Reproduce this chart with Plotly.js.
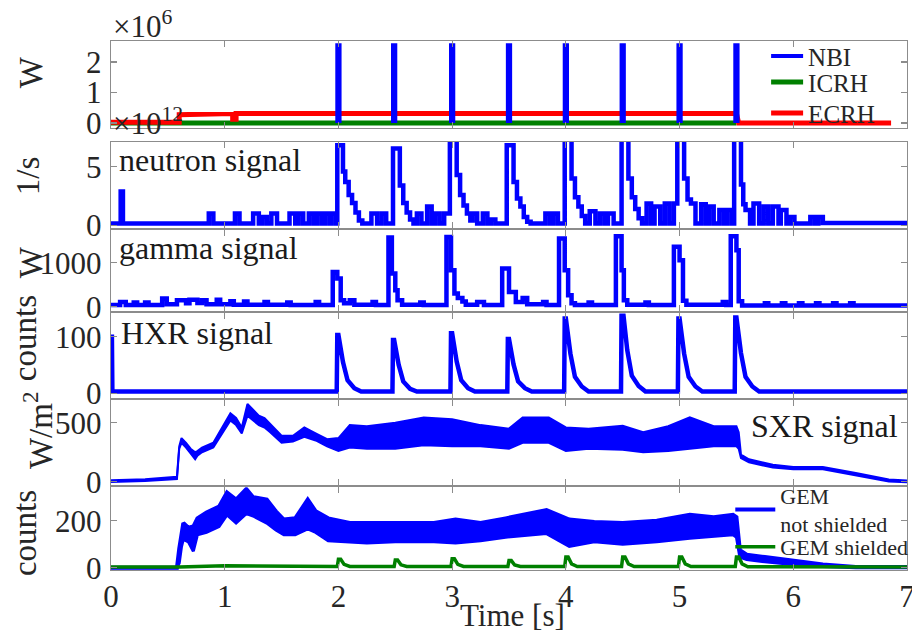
<!DOCTYPE html>
<html>
<head>
<meta charset="utf-8">
<script src="https://cdn.plot.ly/plotly-3.0.1.min.js"></script>
<style>html,body{margin:0;padding:0;background:#fff;}#chart{width:912px;height:632px;}</style>
</head>
<body>
<div id="chart"></div>
<script>
// ---------------- DATA ----------------
// Panel 1: heating power, in units of 1e6 W
const nbiT  = [1.99,1.99,2.01,2.01,null,2.48,2.48,2.50,2.50,null,2.99,2.99,3.01,3.01,null,3.49,3.49,3.51,3.51,null,3.99,3.99,4.01,4.01,null,4.49,4.49,4.51,4.51,null,4.99,4.99,5.01,5.01,null,5.49,5.49,5.51,5.51];
const nbiP  = [0,2.55,2.55,0,null,0,2.55,2.55,0,null,0,2.55,2.55,0,null,0,2.55,2.55,0,null,0,2.55,2.55,0,null,0,2.55,2.55,0,null,0,2.55,2.55,0,null,0,2.55,2.55,0];
const icrhT = [0, 5.5];
const icrhP = [0, 0];
const ecrhT = [0, 0.60, 0.60, 0.64, 0.64, 1.07, 1.07, 1.10, 1.10, 3.0, 5.50, 5.52, 6.86];
const ecrhP = [0.02, 0.02, 0.27, 0.27, 0.31, 0.31, 0.12, 0.12, 0.31, 0.31, 0.31, 0.0, 0.0];

// Panel 2: neutron signal, in units of 1e12 1/s (step data: value holds until next time)
const neutronT = [0,0.085,0.105,0.86,0.90,1.09,1.13,1.25,1.30,1.33,1.37,1.41,1.46,1.57,1.62,1.65,1.69,1.74,1.78,1.81,1.85,1.88,1.92,1.94,1.98,
  1.99,2.04,2.06,2.09,2.12,2.15,2.18,2.21,2.29,2.34,2.38,2.42,
  2.48,2.54,2.57,2.60,2.63,2.66,2.69,2.73,2.78,2.82,2.85,2.89,2.93,
  2.98,3.04,3.07,3.10,3.13,3.16,3.18,3.22,3.27,3.31,3.34,3.38,
  3.48,3.54,3.57,3.60,3.63,3.66,3.69,3.82,3.86,3.89,3.93,
  3.99,4.05,4.08,4.11,4.14,4.17,4.21,4.26,4.30,4.34,4.37,4.42,
  4.49,4.55,4.58,4.61,4.64,4.67,4.71,4.75,4.78,4.83,4.87,4.91,4.95,
  4.98,5.04,5.07,5.10,5.14,5.19,5.23,5.26,5.30,5.35,5.39,5.42,5.46,
  5.48,5.54,5.56,5.58,5.62,5.65,5.70,5.74,5.78,5.82,5.87,5.89,5.94,5.97,6.01,6.15,6.19,6.22,6.26,7.0];
const neutronV = [0.15,2.9,0.15,1.0,0.15,1.0,0.15,1.0,0.15,0.7,0.15,1.0,0.15,1.0,0.15,1.0,0.15,1.0,0.15,1.0,0.15,1.0,0.15,1.0,0.15,
  6.86,4.6,3.7,2.6,1.9,1.1,0.4,0.15,1.0,0.15,1.0,0.15,
  6.57,3.4,1.9,1.1,0.5,0.15,1.0,0.15,1.6,0.15,1.0,0.15,1.0,
  7.5,4.3,2.6,1.7,1.0,0.4,1.0,0.15,1.0,0.15,0.5,0.15,
  6.86,3.7,2.3,1.6,0.7,0.3,0.15,1.0,0.15,1.0,0.15,
  7.5,4.0,2.4,1.6,0.8,0.15,1.2,0.15,1.0,0.15,1.0,0.15,
  7.5,4.0,2.4,1.4,0.6,0.15,1.86,0.15,1.6,0.15,1.86,0.15,1.86,
  7.5,4.0,2.2,1.86,0.15,1.8,0.15,1.6,0.15,1.3,0.15,1.3,0.15,
  7.5,3.5,1.8,1.3,0.15,1.86,0.15,1.6,0.15,1.6,0.15,1.3,0.15,0.7,0.15,0.7,0.15,0.7,0.2,0.2];

// Panel 3: gamma signal, W (step data)
const gammaT = [0,0.08,0.13,0.20,0.23,0.30,0.33,0.45,0.49,0.58,0.66,0.69,0.76,0.80,0.84,0.93,0.96,1.05,1.08,1.17,1.20,1.35,1.38,1.55,1.58,1.80,1.83,
  1.95,1.99,2.02,2.05,2.10,2.14,2.30,2.33,
  2.44,2.47,2.50,2.52,2.56,2.72,2.75,
  2.95,2.99,3.02,3.05,3.09,3.12,3.22,3.28,
  3.44,3.50,3.56,3.62,3.66,3.80,3.83,
  3.94,3.99,4.02,4.05,4.08,4.20,4.23,
  4.44,4.49,4.51,4.54,4.70,4.73,
  4.95,5.00,5.03,5.06,5.38,5.41,
  5.45,5.50,5.52,5.55,5.75,5.78,5.90,5.93,6.05,6.08,6.20,6.23,6.35,6.38,6.50,6.53,7.0];
const gammaV = [40,110,40,100,40,100,40,190,60,150,80,160,90,150,60,160,60,130,50,120,50,110,50,100,40,110,40,
  795,645,150,80,150,50,110,40,
  1577,759,380,150,50,100,40,
  1590,834,304,200,120,50,110,40,
  872,340,110,200,60,110,40,
  1554,834,265,80,40,100,40,
  1607,834,150,50,100,40,
  1364,1061,140,50,110,40,
  1607,1288,130,30,80,30,80,30,80,30,80,30,80,30,80,30,30];

// Panel 4: HXR signal, counts
const hxrT = [0,0,0.008,0.012,1.985,1.99,2.00,2.04,2.08,2.14,2.20,
  2.475,2.48,2.49,2.53,2.57,2.63,2.69,
  2.985,2.99,3.00,3.04,3.08,3.14,3.20,
  3.485,3.49,3.50,3.54,3.58,3.64,3.70,
  3.985,3.99,4.00,4.04,4.08,4.14,4.20,
  4.485,4.49,4.50,4.54,4.58,4.64,4.70,
  4.985,4.99,5.00,5.04,5.08,5.14,5.20,
  5.485,5.49,5.50,5.54,5.58,5.64,5.70,7.0];
const hxrV = [0,100,100,3,3,103,103,55,23,9,3,
  3,94,94,50,21,8,3,
  3,106,106,56,23,9,3,
  3,96,96,51,21,9,3,
  3,132,132,70,29,12,3,
  3,150,150,76,31,13,3,
  3,132,132,70,29,12,3,
  3,134,134,71,29,12,3,3];

// Panel 5: SXR signal, W/m^2 (upper and lower edge of the noisy band)
const sxrT     = [0,0.30,0.58,0.60,0.62,0.66,0.70,0.74,0.76,0.80,0.90,1.00,1.05,1.10,1.15,1.20,1.25,1.30,1.35,1.40,1.50,1.60,1.70,1.80,1.90,2.00,2.10,2.25,2.50,2.75,3.00,3.25,3.50,3.62,3.85,4.00,4.20,4.50,4.68,4.90,5.09,5.30,5.50,5.52,5.54,5.61,5.82,6.00,6.26,6.55,6.84,7.00];
const sxrUpper = [12,22,42,300,370,330,280,250,260,290,330,490,580,540,460,660,610,560,540,490,390,390,460,410,360,370,480,470,500,545,530,480,450,545,545,460,450,475,420,470,545,470,470,420,230,190,145,125,125,75,20,10];
const sxrLower = [-2,6,22,280,330,290,240,190,220,250,290,440,520,480,410,560,520,480,460,420,330,340,380,350,300,260,290,280,280,310,300,300,280,330,330,260,280,270,250,260,280,300,300,280,200,165,120,105,105,55,2,-4];

// Panel 6: GEM counts (not shielded: band edges; shielded: single line)
const gemT      = [0,0.58,0.60,0.62,0.636,0.68,0.724,0.76,0.84,0.95,1.02,1.10,1.19,1.25,1.37,1.45,1.52,1.62,1.73,1.80,1.91,2.10,2.25,2.50,2.84,3.03,3.25,3.47,3.83,4.03,4.25,4.50,4.80,5.09,5.30,5.47,5.50,5.53,5.59,5.75,5.97,6.26,6.55,7.00];
const gemUpper  = [0,0,80,160,190,170,175,210,235,260,320,290,335,300,290,240,205,210,290,240,210,190,190,190,190,205,190,210,245,205,195,190,200,225,215,225,215,75,55,45,30,14,3,3];
const gemLower  = [0,0,20,90,120,110,70,140,150,175,225,190,230,220,190,160,140,140,165,150,115,110,105,110,110,105,115,130,145,90,110,100,110,125,135,140,130,45,35,25,15,5,0,0];
const gemShT    = [0,0.60,1.00,1.50,1.99,2.00,2.02,2.05,2.10,2.49,2.50,2.52,2.55,2.60,2.99,3.00,3.02,3.05,3.10,3.49,3.50,3.52,3.55,3.60,3.99,4.00,4.02,4.05,4.10,4.49,4.50,4.52,4.55,4.60,4.99,5.00,5.02,5.05,5.10,5.49,5.50,5.52,5.55,5.60,7.00];
const gemShV    = [3,3,8,5,5,36,36,14,5,5,33,33,12,5,5,38,38,14,5,5,30,30,11,5,5,45,45,16,5,5,45,45,16,5,5,45,45,16,5,5,45,45,16,4,3];

// Tick and text labels
const xTicks = [0,1,2,3,4,5,6,7];
const yTitles = ['W','1/s','W','counts','W/m<sup>2</sup>','counts'];
const panelLabels = ['neutron signal','gamma signal','HXR signal','SXR signal'];
const legendNames = ['NBI','ICRH','ECRH','GEM<br>not shielded','GEM shielded'];
const xTitle = 'Time [s]';

// ---------------- STYLE ----------------
const FONT = 'Liberation Serif';
const TXT = '#262626';
const BLUE = '#0000ff', GREEN = '#008000', RED = '#ff0000';
const FRAME = '#8c8c8c';

const traces = [
  {x: icrhT, y: icrhP, xaxis:'x', yaxis:'y', mode:'lines', name: legendNames[1], legend:'legend4', line:{color:GREEN, width:5}},
  {x: ecrhT, y: ecrhP, xaxis:'x', yaxis:'y', mode:'lines', name: legendNames[2], legend:'legend5', line:{color:RED, width:5}},
  {x: nbiT, y: nbiP, xaxis:'x', yaxis:'y', mode:'lines', name: legendNames[0], legend:'legend', connectgaps:false, line:{color:BLUE, width:4}},
  {x: neutronT, y: neutronV, xaxis:'x2', yaxis:'y2', mode:'lines', showlegend:false, line:{color:BLUE, width:4.5, shape:'hv'}},
  {x: gammaT, y: gammaV, xaxis:'x3', yaxis:'y3', mode:'lines', showlegend:false, line:{color:BLUE, width:4.5, shape:'hv'}},
  {x: hxrT, y: hxrV, xaxis:'x4', yaxis:'y4', mode:'lines', showlegend:false, line:{color:BLUE, width:4.5}},
  {x: sxrT, y: sxrUpper, xaxis:'x5', yaxis:'y5', mode:'lines', showlegend:false, line:{color:BLUE, width:2}},
  {x: sxrT, y: sxrLower, xaxis:'x5', yaxis:'y5', mode:'lines', showlegend:false, fill:'tonexty', fillcolor:BLUE, line:{color:BLUE, width:2}},
  {x: gemT, y: gemUpper, xaxis:'x6', yaxis:'y6', mode:'lines', name: legendNames[3], legend:'legend2', line:{color:BLUE, width:4}},
  {x: gemT, y: gemLower, xaxis:'x6', yaxis:'y6', mode:'lines', showlegend:false, fill:'tonexty', fillcolor:BLUE, line:{color:BLUE, width:3}},
  {x: gemShT, y: gemShV, xaxis:'x6', yaxis:'y6', mode:'lines', name: legendNames[4], legend:'legend3', line:{color:GREEN, width:3.5}}
];

const axisBase = {
  showline:true, linecolor:FRAME, linewidth:1.3, mirror:'allticks',
  ticks:'inside', ticklen:6, tickwidth:1.2, tickcolor:FRAME,
  showgrid:false, zeroline:false,
  tickfont:{family:FONT, size:31, color:TXT}
};

// panel domains (paper fractions, bottom-up) and y ranges
const domains = [[0.8364,1],[0.6467,0.8092],[0.4899,0.6424],[0.3244,0.4850],[0.1606,0.3212],[0,0.1562]];
const yRanges = [[-0.15,2.69],[-0.23,7.14],[-90,1743],[-9,141],[-28,692],[-10,342]];
const yDticks = [1,5,1000,100,500,200];

function legendAt(x, y, size, iw) {
  return {x:x, y:y, xanchor:'left', yanchor:'middle', bgcolor:'rgba(0,0,0,0)', borderwidth:0,
          font:{family:FONT, size:size, color:TXT}, tracegroupgap:0, itemwidth:iw};
}

const layout = {
  width:912, height:632,
  paper_bgcolor:'#ffffff', plot_bgcolor:'#ffffff',
  margin:{l:111, r:5, t:41, b:62, autoexpand:false},
  showlegend:true,
  legend:  legendAt(0.823, 0.9710, 25, 32),
  legend4: legendAt(0.823, 0.9220, 25, 32),
  legend5: legendAt(0.823, 0.8634, 25, 32),
  legend2: legendAt(0.778, 0.1134, 22, 40),
  legend3: legendAt(0.778, 0.0435, 22, 40),
  annotations:[],
  font:{family:FONT, color:TXT}
};

for (let i = 0; i < 6; i++) {
  const n = i + 1;
  const xk = n === 1 ? 'xaxis' : 'xaxis' + n;
  const yk = n === 1 ? 'yaxis' : 'yaxis' + n;
  layout[xk] = Object.assign({}, axisBase, {
    domain:[0,1], range:[0,7], tickvals:xTicks, ticktext:xTicks.map(String),
    anchor: n === 1 ? 'y' : 'y' + n, showticklabels: n === 6, automargin:false
  });
  if (n > 1) layout[xk].matches = 'x';
  layout[yk] = Object.assign({}, axisBase, {
    domain:domains[i], range:yRanges[i], dtick:yDticks[i], tick0:0,
    anchor: n === 1 ? 'x' : 'x' + n, ticklabelstandoff:2, automargin:false
  });
}
layout.xaxis6.ticklabelstandoff = -2;
layout.xaxis6.ticklabeloverflow = 'allow';

// y-axis titles placed like the original (rotated text)
const yTitlePos = [[-0.1005,0.9409],[-0.1043,0.7463],[-0.1005,0.5819],[-0.1080,0.4383],[-0.0917,0.2645],[-0.1080,0.0699]];
yTitles.forEach((t, i) => {
  layout.annotations.push({text:t, xref:'paper', yref:'paper', x:yTitlePos[i][0], y:yTitlePos[i][1],
    xanchor:'center', yanchor:'middle', textangle:-90, showarrow:false, font:{family:FONT, size:33, color:TXT}});
});
// exponent labels
layout.annotations.push({text:'\u00d710<sup>6</sup>', xref:'paper', yref:'paper', x:0.0, y:1.031, xanchor:'left', yanchor:'middle', showarrow:false, font:{family:FONT, size:31, color:TXT}});
layout.annotations.push({text:'\u00d710<sup>12</sup>', xref:'paper', yref:'paper', x:0.0, y:0.848, xanchor:'left', yanchor:'middle', showarrow:false, font:{family:FONT, size:31, color:TXT}});
// panel labels
const labelPos = [[0.0075,0.7747,'left'],[0.0075,0.6084,'left'],[0.0100,0.4478,'left'],[0.8015,0.2721,'left']];
panelLabels.forEach((t, i) => {
  layout.annotations.push({text:t, xref:'paper', yref:'paper', x:labelPos[i][0], y:labelPos[i][1], xanchor:labelPos[i][2], yanchor:'middle', showarrow:false, font:{family:FONT, size:32, color:'#1a1a1a'}});
});
// x title
layout.annotations.push({text:xTitle, xref:'paper', yref:'paper', x:0.5038, y:-0.0869, xanchor:'center', yanchor:'middle', showarrow:false, font:{family:FONT, size:31, color:TXT}});

Plotly.newPlot('chart', traces, layout, {displayModeBar:false, staticPlot:true});
</script>
</body>
</html>
